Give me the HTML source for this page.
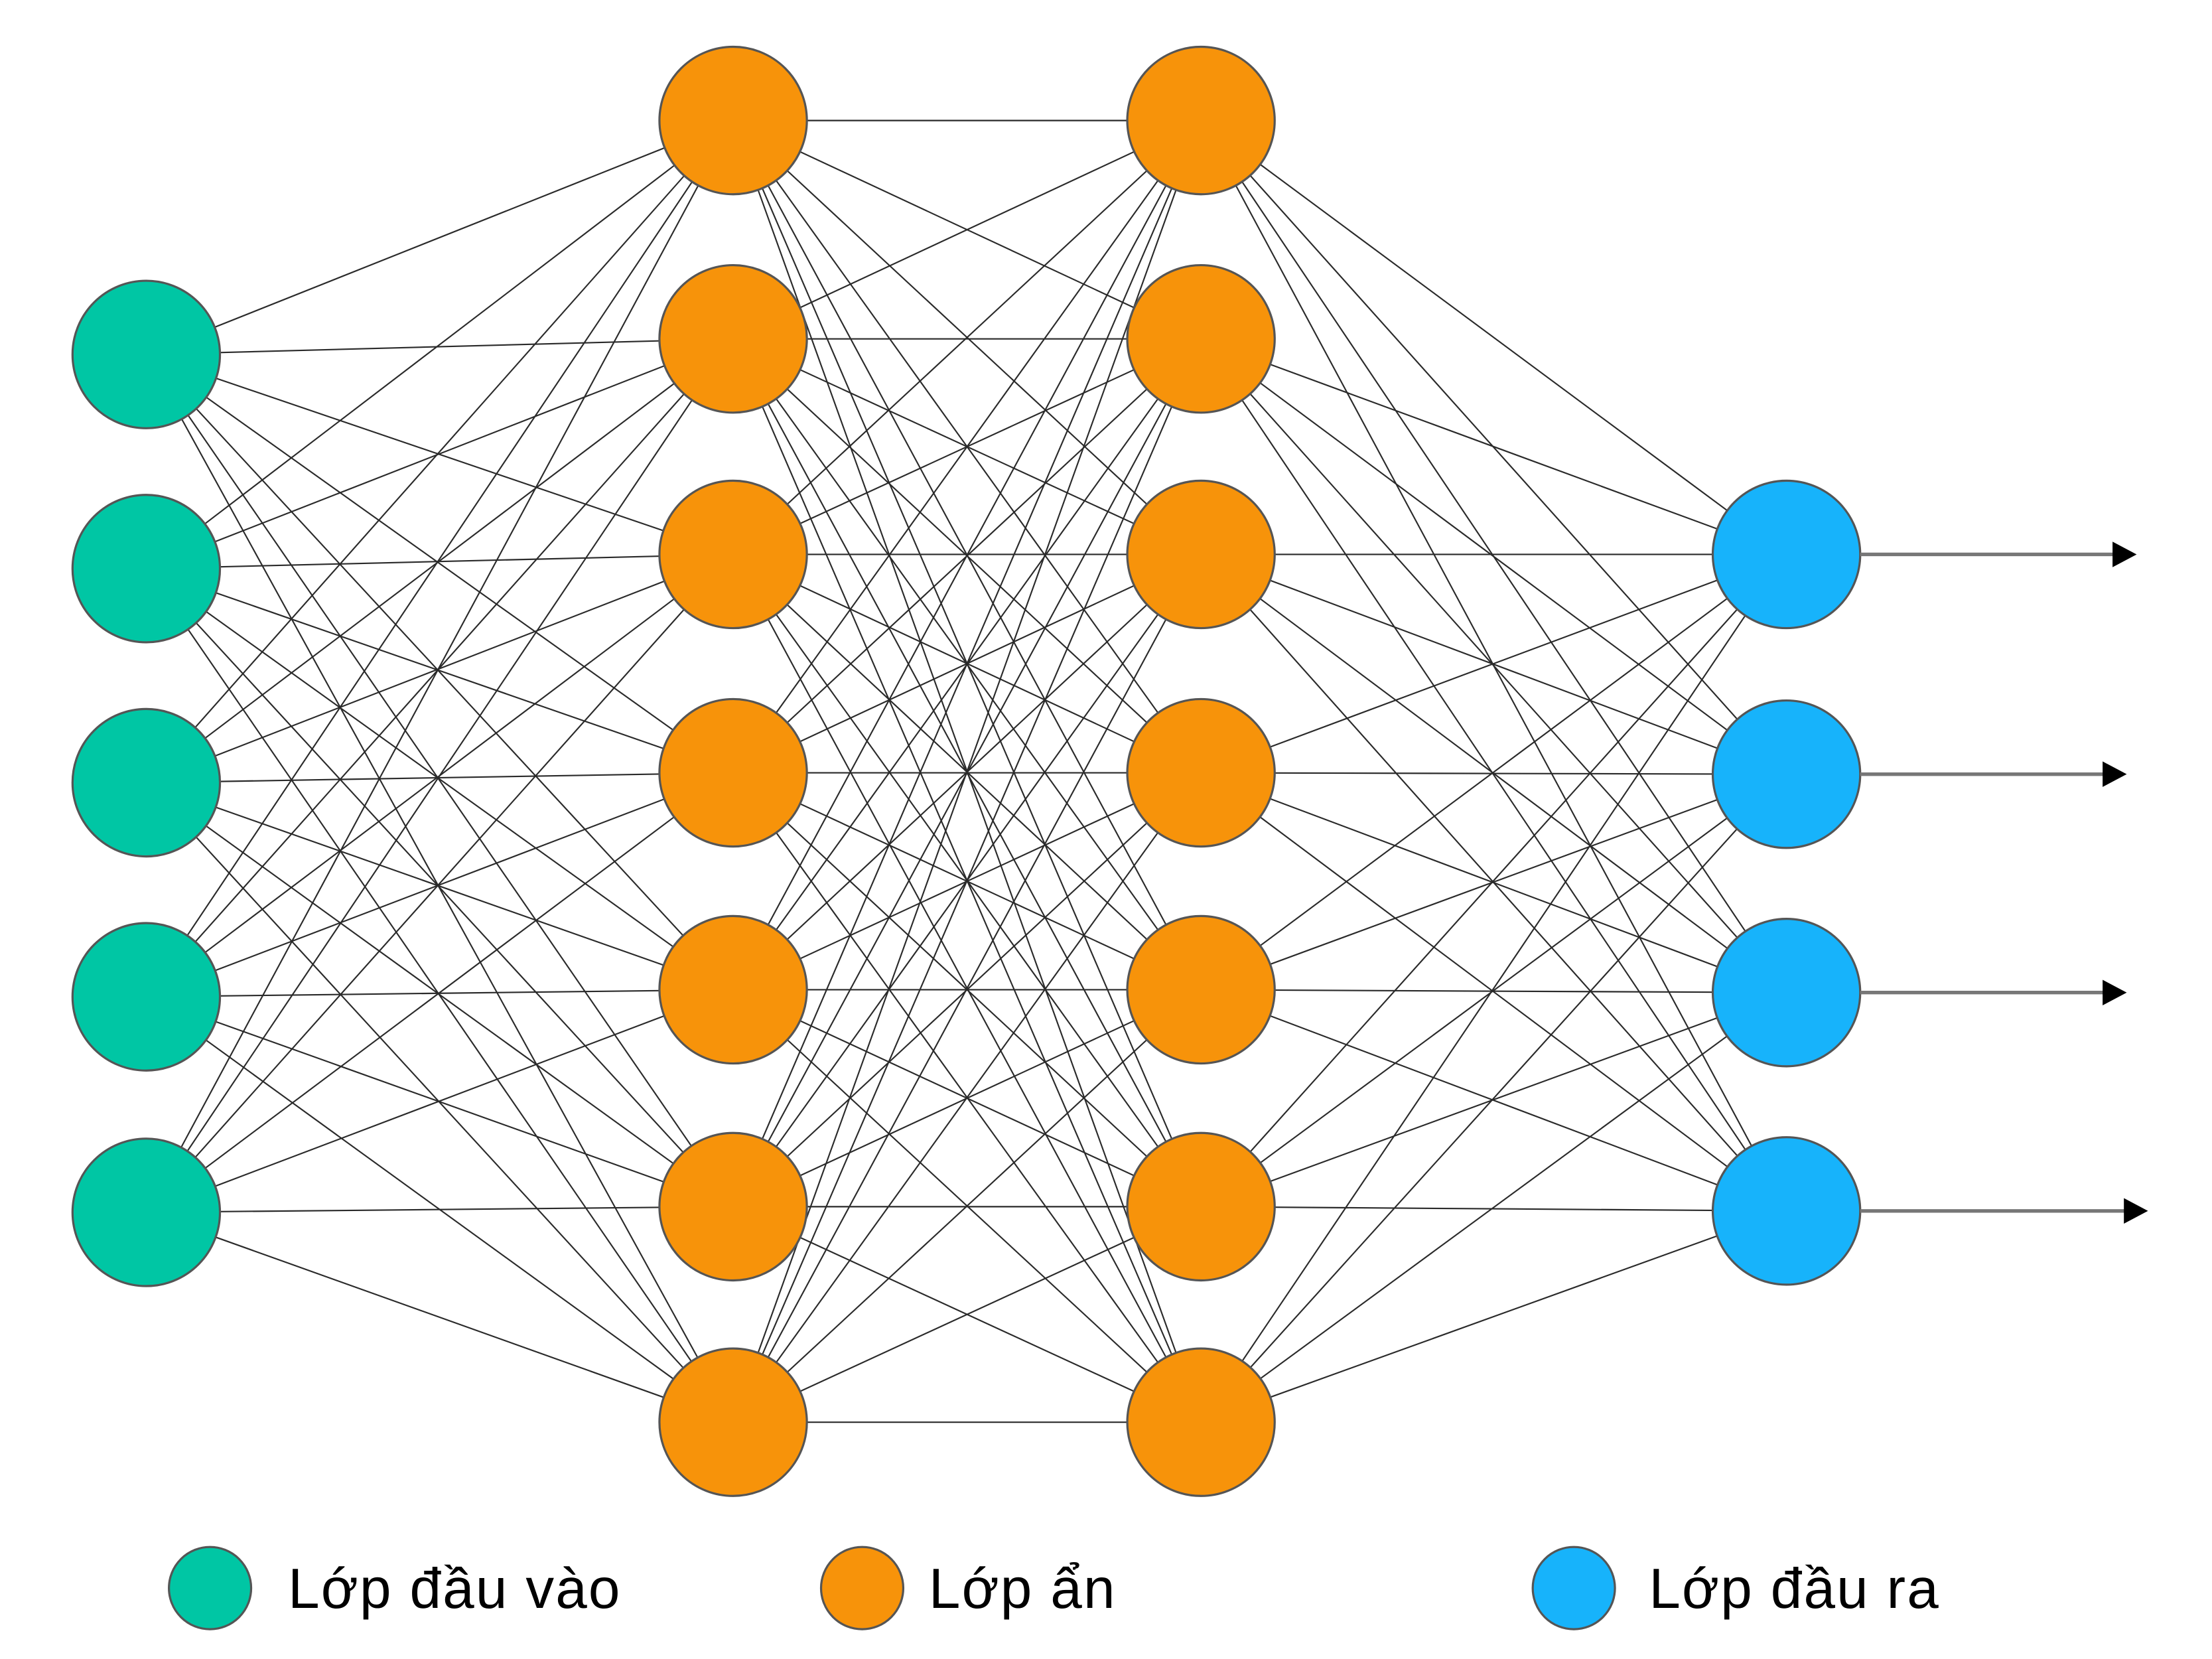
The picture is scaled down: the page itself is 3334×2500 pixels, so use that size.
<!DOCTYPE html>
<html><head><meta charset="utf-8"><style>html,body{margin:0;padding:0;background:#fff}svg{display:block}</style></head>
<body>
<svg id="s" width="3334" height="2500" viewBox="0 0 1560 1170" xmlns="http://www.w3.org/2000/svg">
<g id="lines" stroke="#2a2a2a" stroke-width="1" fill="none"></g>
<g id="nodes" stroke="#555" stroke-width="1.5"></g>
<g stroke="#777" stroke-width="2.5">
<line x1="1312" y1="391" x2="1495" y2="391"/><line x1="1312" y1="546" x2="1490" y2="546"/>
<line x1="1312" y1="700" x2="1490" y2="700"/><line x1="1312" y1="854" x2="1500" y2="854"/>
</g>
<g fill="#000">
<polygon points="1490,382 1507,391 1490,400"/><polygon points="1483,537 1500,546 1483,555"/>
<polygon points="1483,691 1500,700 1483,709"/><polygon points="1498,845 1515,854 1498,863"/>
</g>
<circle cx="148" cy="1120" r="29" fill="#00C6A4" stroke="#555" stroke-width="1.5"/>
<circle cx="608" cy="1120" r="29" fill="#F7930A" stroke="#555" stroke-width="1.5"/>
<circle cx="1110" cy="1120" r="29" fill="#17B3FB" stroke="#555" stroke-width="1.5"/>
<g font-family="Liberation Sans, DejaVu Sans, sans-serif" font-size="40" fill="#000" letter-spacing="1">
<text x="203" y="1134">Lớp đầu vào</text>
<text x="655" y="1134">Lớp ẩn</text>
<text x="1163" y="1134">Lớp đầu ra</text>
</g>
</svg>
<script>
const L=[{x:103,c:"#00C6A4",ys:[250,401,552,703,855]},
{x:517,c:"#F7930A",ys:[85,239,391,545,698,851,1003]},
{x:847,c:"#F7930A",ys:[85,239,391,545,698,851,1003]},
{x:1260,c:"#17B3FB",ys:[391,546,700,854]}];
const ns="http://www.w3.org/2000/svg";
const lg=document.getElementById("lines"),ng=document.getElementById("nodes");
for(let i=0;i<3;i++){for(const a of L[i].ys)for(const b of L[i+1].ys){const l=document.createElementNS(ns,"line");
l.setAttribute("x1",L[i].x);l.setAttribute("y1",a);l.setAttribute("x2",L[i+1].x);l.setAttribute("y2",b);lg.appendChild(l);}}
for(const layer of L)for(const y of layer.ys){const c=document.createElementNS(ns,"circle");
c.setAttribute("cx",layer.x);c.setAttribute("cy",y);c.setAttribute("r",52);c.setAttribute("fill",layer.c);ng.appendChild(c);}
</script>
</body></html>
